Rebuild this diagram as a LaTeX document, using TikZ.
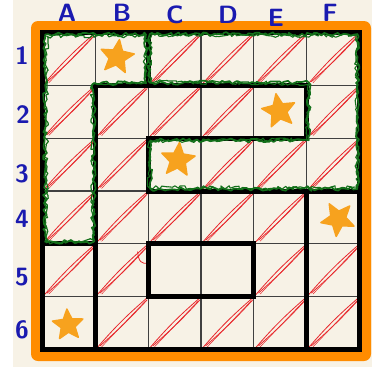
\documentclass[tikz,border=0pt]{standalone}
\usetikzlibrary{shapes.geometric,decorations.pathmorphing}
\definecolor{cream}{HTML}{F7F2E6}
\definecolor{orangeb}{HTML}{FF8C00}
\definecolor{staro}{HTML}{F7A21E}
\definecolor{gscrib}{HTML}{13701A}
\definecolor{redh}{HTML}{E8262B}
\definecolor{labblue}{HTML}{1A1AB0}
\begin{document}
\begin{tikzpicture}[x=1pt,y=-1pt,
  thinline/.style={line width=1.1pt, draw=black!75},
  thickline/.style={line width=5pt, draw=black, line cap=rect, line join=miter},
  hatch/.style={line width=0.8pt, draw=redh, line cap=round},
  scribble/.style={draw=gscrib, line width=1.7pt, line join=round, decorate,
     decoration={random steps, segment length=3pt, amplitude=2pt}},
  starnode/.style={star, star points=5, star point ratio=2.2, fill=staro, draw=staro,
     line width=1.5pt, line join=round, minimum size=35pt, inner sep=0pt},
  lab/.style={text=labblue, font=\sffamily\bfseries\fontsize{25}{25}\selectfont, inner sep=0pt}]
\useasboundingbox (0,0) rectangle (372,367);
\fill[white] (0,0) rectangle (372,367);
\fill[cream] (13,0) rectangle (372,367);
\fill[orangeb, rounded corners=7pt] (31,21) rectangle (371,361);
\fill[cream] (42.5,32.5) rectangle (359.5,349.5);
% labels
\node[lab] (lA) at (67,13) {A};
\node[lab] (lB) at (122,13) {B};
\node[lab] (lC) at (175,15) {C};
\node[lab] (lD) at (228,15) {D};
\node[lab] (lE) at (276,18) {E};
\node[lab] (lF) at (330,13) {F};
\node[lab] (l1) at (22,56) {1};
\node[lab] (l2) at (23,115) {2};
\node[lab] (l3) at (22,174) {3};
\node[lab] (l4) at (22,219) {4};
\node[lab] (l5) at (22,277) {5};
\node[lab] (l6) at (22,330) {6};
\begin{scope}[shift={(42.5,32.5)}, x=52.833pt, y=-52.833pt]
  % red hatching
  \foreach \i/\j in {0/0,2/0,3/0,4/0,5/0,
                     0/1,1/1,2/1,3/1,5/1,
                     0/2,1/2,3/2,4/2,5/2,
                     0/3,1/3,2/3,3/3,4/3,
                     0/4,1/4,4/4,5/4,
                     1/5,2/5,3/5,4/5,5/5}{
    \draw[hatch] (\i+0.04,\j+0.96) to[bend left=4] (\i+0.97,\j+0.03);
    \draw[hatch] (\i+0.09,\j+0.93) to[bend right=3] (\i+0.98,\j+0.06);
    \draw[hatch, line width=0.5pt] (\i+0.12,\j+0.95) -- (\i+0.95,\j+0.08);
  }
  \draw[hatch] (1.8,4.15) .. controls (1.82,4.35) and (1.88,4.38) .. (2.0,4.37);
  % thin grid
  \foreach \k in {1,...,5}{
    \draw[thinline] (\k,0) -- (\k,6);
    \draw[thinline] (0,\k) -- (6,\k);
  }
  % thick region borders
  \draw[thickline] (0,0) rectangle (6,6);
  \draw[thickline] (2,0) -- (2,1);
  \draw[thickline] (1,1) -- (5,1) -- (5,2) -- (2,2) -- (2,3) -- (6,3);
  \draw[thickline] (1,1) -- (1,6);
  \draw[thickline] (0,4) -- (1,4);
  \draw[thickline] (5,3) -- (5,6);
  \draw[thickline] (2,4) rectangle (4,5);
  % green scribbles
  \pgfmathsetseed{7}
  \draw[scribble] (0.05,0.04) -- (1.96,0.04) -- (1.96,0.96) -- (0.97,0.96) -- (0.97,3.96) -- (0.05,3.96) -- cycle;
  \draw[scribble, line width=1.2pt] (0.08,0.07) -- (1.93,0.06) -- (1.95,0.93) -- (0.94,0.98) -- (0.95,3.93) -- (0.07,3.98) -- cycle;
  \draw[scribble] (2.03,0.03) -- (5.96,0.03) -- (5.96,2.96) -- (2.04,2.96) -- (2.04,2.04) -- (5.04,2.04) -- (5.04,0.95) -- (2.03,0.95) -- cycle;
  \draw[scribble, line width=1.1pt] (2.06,0.05) -- (5.94,0.06) -- (5.97,2.93) -- (2.02,2.94) -- (2.02,2.06) -- (5.0,2.02) -- (5.06,0.97) -- (2.0,0.93) -- cycle;
\end{scope}
% stars
\node[starnode, rotate=-8] (sB1) at (117,57) {};
\node[starnode, rotate=10] (sE2) at (279,111) {};
\node[starnode, rotate=-5] (sC3) at (178,160) {};
\node[starnode, rotate=30] (sF4) at (338,219) {};
\node[starnode, rotate=4, minimum size=32pt] (sA6) at (68,325) {};
\end{tikzpicture}
\end{document}
